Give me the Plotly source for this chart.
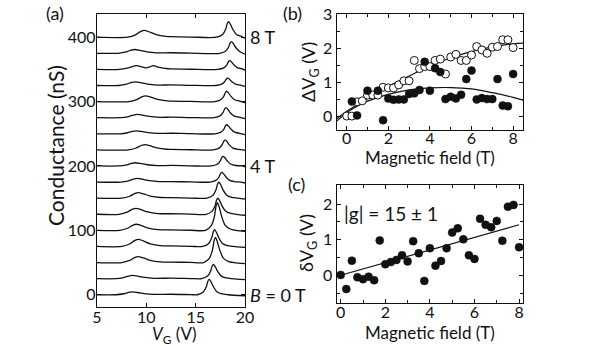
import plotly.graph_objects as go

# ---------------- Panel (a) data ----------------
fields_T = [0, 0.5, 1, 1.5, 2, 2.5, 3, 3.5, 4, 4.5, 5, 5.5, 6, 6.5, 7, 7.5, 8]
offsets_nS = [0, 25, 50, 75, 100, 125, 150, 175, 200, 225, 250, 275, 300, 325, 350, 375, 400]
bump_pos_V = [8.6, 8.6, 9.2, 9.2, 9.0, 8.95, 9.2, 9.1, 8.9, 9.86, 9.0, 9.1, 9.93, 8.9, 9.0, 8.85, 9.8]
bump_h_nS = [4.5, 5, 9.3, 11, 9.5, 9.3, 8.5, 5.7, 5, 8.3, 4.6, 5, 9, 5.7, 5.7, 5.9, 10.5]
peak_pos_V = [16.37, 16.8, 17.0, 16.92, 17.2, 17.25, 17.35, 17.65, 17.78, 17.98, 18.15, 18.07, 18.14, 18.24, 18.45, 18.62, 18.33]
peak_h_nS = [24, 22, 39, 26, 43, 25, 25, 15, 15, 15.5, 14, 15.5, 16, 11.5, 13.5, 18, 24]
# normalised line shapes (offset in V, fraction of height)
bump_shape_dV = [-1.7, -0.9, -0.4, 0, 0.5, 1.2, 2.2]
bump_shape_f = [0.0, 0.35, 0.82, 1.0, 0.78, 0.38, 0.12]
peak_shape_dV = [-1.2, -0.6, -0.3, -0.13, 0, 0.18, 0.44, 0.8, 1.3, 1.9]
peak_shape_f = [0.0, 0.18, 0.5, 0.88, 1.0, 0.85, 0.5, 0.18, 0.05, 0.0]
# background levels (V, nS) between features
start_pt = (5, 0.0)
mid_pts = [(12.5, 0.8), (14.5, 0.2)]
end_pt = (20, -1.5)
# trace at 7 T shows a double bump
special_bump = {14: [(7.3, 0), (8.2, 2.5), (9.0, 5.7), (9.6, 3.6), (10.0, 2.2), (10.35, 3.8),
                     (10.7, 5.7), (11.3, 3.0), (12.2, 1.0)]}

# ---------------- Panel (b) data ----------------
b_open_B = [0, 0.25, 0.5, 0.75, 1, 1.25, 1.5, 1.75, 2, 2.25, 2.5, 2.75, 3, 3.25, 3.5, 3.75, 4,
            4.25, 4.5, 4.75, 5, 5.25, 5.5, 5.75, 6, 6.25, 6.5, 6.75, 7, 7.25, 7.5, 7.75, 8]
b_open_V = [0.0, 0.0, 0.42, 0.45, 0.62, 0.62, 0.62, 0.85, 0.83, 0.83, 0.92, 1.04, 1.04, 1.64, 1.4,
            1.46, 1.46, 1.64, 1.68, 1.24, 1.74, 1.82, 1.64, 1.64, 1.8, 2.05, 1.95, 1.85, 2.03, 2.05,
            2.25, 2.25, 2.02]
b_fill_B = [0.25, 0.5, 1, 1.5, 1.75, 2, 2.25, 2.5, 2.75, 3, 3.25, 3.5, 3.75, 4, 4.25, 4.5, 4.75,
            5, 5.25, 5.5, 5.75, 6, 6.25, 6.5, 6.75, 7, 7.25, 7.5, 7.75, 8]
b_fill_V = [0.43, 0.02, 0.75, 0.75, -0.12, 0.52, 0.48, 0.49, 0.49, 0.65, 0.67, 0.77, 1.6, 0.75,
            1.41, 1.3, 0.5, 0.57, 0.52, 0.63, 1.09, 1.34, 0.49, 0.53, 0.5, 0.5, 1.09, 0.31, 0.29, 1.24]
b_fit_hi_B = [-0.48, 0, 1, 2, 3, 4, 5, 6, 7, 8, 8.48]
b_fit_hi_V = [-0.08, 0.14, 0.52, 0.87, 1.18, 1.48, 1.72, 1.9, 2.04, 2.13, 2.15]
b_fit_lo_B = [-0.48, 0, 0.5, 1, 2, 3, 4, 5, 6, 7, 8, 8.48]
b_fit_lo_V = [-0.15, 0.1, 0.29, 0.44, 0.64, 0.77, 0.83, 0.84, 0.8, 0.69, 0.55, 0.47]

# ---------------- Panel (c) data ----------------
c_B = [0, 0.25, 0.5, 0.75, 1, 1.25, 1.5, 1.75, 2, 2.25, 2.5, 2.75, 3, 3.25, 3.5, 3.75, 4,
       4.25, 4.5, 4.75, 5, 5.25, 5.5, 5.75, 6, 6.25, 6.5, 6.75, 7, 7.25, 7.5, 7.75, 8]
c_V = [0.01, -0.39, 0.41, -0.06, -0.11, -0.04, -0.14, 0.98, 0.31, 0.37, 0.43, 0.56, 0.39, 0.96,
       0.62, -0.16, 0.76, 0.27, 0.4, 0.76, 1.2, 1.32, 1.01, 0.56, 0.46, 1.59, 1.42, 1.35, 1.53,
       0.97, 1.93, 1.98, 0.79]
c_fit_B = [0, 8]
c_fit_V = [0.0, 1.42]

FONT = "Lato"
BLACK = "#111111"

fig = go.Figure()

# ---- panel (a) traces ----
for k, off in enumerate(offsets_nS):
    pts = [start_pt]
    if k in special_bump:
        pts += special_bump[k]
    else:
        pts += [(bump_pos_V[k] + d, bump_h_nS[k] * f) for d, f in zip(bump_shape_dV, bump_shape_f)]
    pts += mid_pts
    pts += [(peak_pos_V[k] + d, peak_h_nS[k] * f) for d, f in zip(peak_shape_dV, peak_shape_f)
            if peak_pos_V[k] + d < 19.9]
    pts += [end_pt]
    fig.add_trace(go.Scatter(
        x=[p[0] for p in pts], y=[off + p[1] for p in pts],
        mode="lines", line=dict(color=BLACK, width=1.3, shape="spline", smoothing=0.8),
        xaxis="x", yaxis="y", showlegend=False, hoverinfo="skip"))

# ---- panel (b) ----
fig.add_trace(go.Scatter(x=b_fit_hi_B, y=b_fit_hi_V, mode="lines",
                         line=dict(color=BLACK, width=1.2, shape="spline"),
                         xaxis="x2", yaxis="y2", showlegend=False))
fig.add_trace(go.Scatter(x=b_fit_lo_B, y=b_fit_lo_V, mode="lines",
                         line=dict(color=BLACK, width=1.2, shape="spline"),
                         xaxis="x2", yaxis="y2", showlegend=False))
fig.add_trace(go.Scatter(x=b_open_B, y=b_open_V, mode="markers",
                         marker=dict(size=8, color="white", line=dict(color=BLACK, width=1)),
                         xaxis="x2", yaxis="y2", showlegend=False))
fig.add_trace(go.Scatter(x=b_fill_B, y=b_fill_V, mode="markers",
                         marker=dict(size=8, color=BLACK, line=dict(color=BLACK, width=0.5)),
                         xaxis="x2", yaxis="y2", showlegend=False))

# ---- panel (c) ----
fig.add_trace(go.Scatter(x=c_fit_B, y=c_fit_V, mode="lines",
                         line=dict(color=BLACK, width=1.2),
                         xaxis="x3", yaxis="y3", showlegend=False))
fig.add_trace(go.Scatter(x=c_B, y=c_V, mode="markers",
                         marker=dict(size=8, color=BLACK, line=dict(color=BLACK, width=0.5)),
                         xaxis="x3", yaxis="y3", showlegend=False))

W, H = 590, 346
def px(x):
    return x / W
def py(y):
    return 1 - y / H

axis_common = dict(showline=True, linecolor=BLACK, linewidth=1.3, mirror="ticks",
                   ticks="inside", tickcolor=BLACK, tickwidth=1.2, ticklen=4,
                   showgrid=False, zeroline=False, automargin=False,
                   tickfont=dict(family=FONT, size=16, color=BLACK))

fig.update_layout(
    template="none",
    width=W, height=H, margin=dict(l=0, r=0, t=0, b=0, pad=0), autosize=False,
    paper_bgcolor="white", plot_bgcolor="white",
    xaxis=dict(axis_common, domain=[px(97), px(245)], range=[5, 20], tickvals=[5, 10, 15, 20],
               anchor="y", ticklabelstandoff=-4),
    yaxis=dict(axis_common, domain=[py(307), py(14)], range=[-19, 436],
               tickvals=[0, 100, 200, 300, 400], anchor="x", ticklabelstandoff=-3),
    xaxis2=dict(axis_common, domain=[px(336.7), px(523.3)], range=[-0.48, 8.49],
                tickvals=[0, 2, 4, 6, 8], anchor="y2", ticklabelstandoff=-6,
                minor=dict(tickvals=[1, 3, 5, 7], ticks="inside", ticklen=3, tickcolor=BLACK)),
    yaxis2=dict(axis_common, domain=[py(130), py(14.3)], range=[-0.41, 3.0],
                tickvals=[0, 1, 2, 3], anchor="x2", ticklabelstandoff=0,
                minor=dict(tickvals=[0.5, 1.5, 2.5], ticks="inside", ticklen=3, tickcolor=BLACK)),
    xaxis3=dict(axis_common, domain=[px(336.7), px(523.3)], range=[-0.18, 8.19],
                tickvals=[0, 2, 4, 6, 8], anchor="y3", ticklabelstandoff=-6,
                minor=dict(tickvals=[1, 3, 5, 7], ticks="inside", ticklen=3, tickcolor=BLACK)),
    yaxis3=dict(axis_common, domain=[py(303.3), py(185)], range=[-0.79, 2.54],
                tickvals=[0, 1, 2], anchor="x3", ticklabelstandoff=0,
                minor=dict(tickvals=[-0.5, 0.5, 1.5], ticks="inside", ticklen=3, tickcolor=BLACK)),
)

def ann(text, x, y, size=17, xanchor="center", angle=0):
    fig.add_annotation(text=text, x=px(x), y=py(y), xref="paper", yref="paper",
                       showarrow=False, xanchor=xanchor, yanchor="middle", textangle=angle,
                       font=dict(family=FONT, size=size, color=BLACK))

ann("(a)", 55, 13, size=18)
ann("(b)", 292, 13, size=18)
ann("(c)", 297, 184, size=18)
ann("Conductance (nS)", 55, 146, size=21, angle=-90)
ann("<i>V</i><sub>G</sub> (V)", 174, 335, size=17)
ann("8 T", 248, 37, size=18, xanchor="left")
ann("4 T", 248, 166, size=18, xanchor="left")
ann("<i>B</i> = 0 T", 248, 295, size=18, xanchor="left")
ann("ΔV<sub>G</sub> (V)", 309, 72, size=18, angle=-90)
ann("Magnetic field (T)", 430, 157, size=17)
ann("δV<sub>G</sub> (V)", 308, 243, size=18, angle=-90)
ann("Magnetic field (T)", 430, 332, size=17)
ann("|g| = 15 ± 1", 342, 213, size=19, xanchor="left")

fig.write_html("out.html")
